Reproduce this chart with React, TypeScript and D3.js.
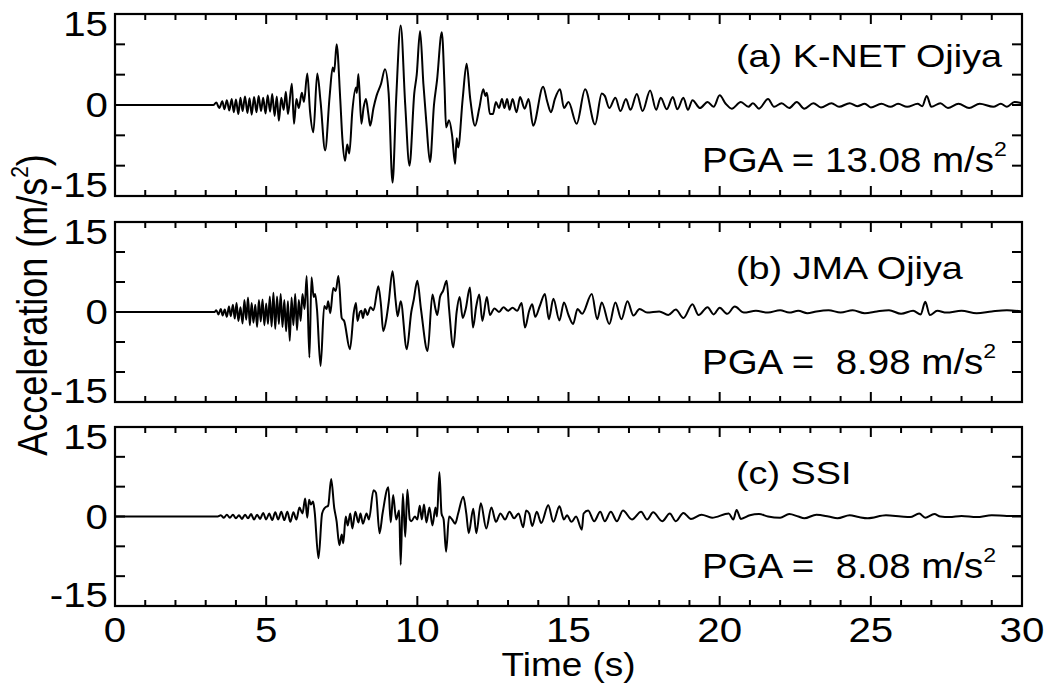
import React from 'react';
import * as d3 from 'd3';

// ---------- data (time s, acceleration m/s^2) ----------
const timeTicks = [0, 5, 10, 15, 20, 25, 30];
const timeMinorTicks = d3.range(0, 31, 1);
const accTicks = [15, 0, -15];
const accMinorTicks = [15, 10, 5, 0, -5, -10, -15];
const panelLabels = ['(a) K-NET Ojiya', '(b) JMA Ojiya', '(c) SSI'];
const pgaValues = ['13.08', ' 8.98', ' 8.08'];

const kNetOjiya: [number, number][] = [
  [0, 0], [3.25, 0], [3.35, 0.4], [3.45, -0.5], [3.55, 0.6], [3.62, -0.7], [3.7, 0.8], [3.78, -0.9],
  [3.86, 1.0], [3.93, -1.2], [4.0, 0.9], [4.08, -1.5], [4.15, 1.2], [4.22, -1.0], [4.3, 1.4], [4.38, -1.3],
  [4.45, 1.1], [4.52, -1.6], [4.6, 1.3], [4.68, -1.2], [4.75, 1.5], [4.83, -1.0], [4.9, 1.2], [4.98, -1.4],
  [5.05, 1.6], [5.13, -1.1], [5.2, 1.8], [5.28, -1.8], [5.35, 1.4], [5.42, -2.6], [5.5, 1.2], [5.58, -0.8],
  [5.65, 2.2], [5.72, -1.5], [5.85, 3.5], [5.92, -3.1], [6.0, 1.0], [6.08, -0.5], [6.18, 2.0], [6.25, 0.5],
  [6.36, 5.2], [6.45, -1.0], [6.56, -4.5], [6.69, 5.2], [6.8, 0.5], [6.95, -7.5], [7.1, 1.5], [7.2, 6.2],
  [7.25, 5.5], [7.33, 10.0], [7.45, 1.0], [7.52, -5.5], [7.61, -9.2], [7.68, -6.5], [7.75, -8.0], [7.85, -1.0],
  [7.97, 2.9], [8.0, 2.0], [8.05, 5.1], [8.15, -3.1], [8.22, -0.5], [8.3, 1.0], [8.38, -1.5], [8.44, -3.4],
  [8.55, -0.5], [8.65, 1.5], [8.8, 3.5], [8.93, 5.9], [9.05, 2.0], [9.18, -12.8], [9.3, 1.0], [9.45, 13.1],
  [9.6, 0.0], [9.74, -10.0], [9.9, 2.0], [9.98, 5.0], [10.09, 12.2], [10.2, 3.5], [10.3, -3.0], [10.42, -9.4],
  [10.55, 0.0], [10.65, 4.0], [10.81, 12.0], [10.9, 3.0], [10.95, -3.7], [11.05, -2.5], [11.15, -5.0], [11.25, -9.7],
  [11.3, -5.5], [11.35, -7.0], [11.5, 1.0], [11.63, 6.8], [11.75, 1.0], [11.91, -3.4], [12.05, -0.5], [12.18, 2.6],
  [12.25, 1.5], [12.3, 2.0], [12.4, -1.5], [12.5, -1.5], [12.6, 0.5], [12.7, -0.5], [12.8, 1.0], [12.88, -0.5],
  [12.97, 1.0], [13.05, -0.8], [13.15, 1.0], [13.28, -1.2], [13.4, 1.3], [13.55, -0.6], [13.68, 1.0], [13.83, -3.4],
  [14.16, 3.0], [14.3, 0.5], [14.42, -1.2], [14.55, 1.0], [14.72, 2.6], [14.85, -0.5], [15.0, 0.5], [15.27, -3.1],
  [15.55, 2.6], [15.88, -3.2], [16.1, 1.9], [16.2, 1.5], [16.35, -0.5], [16.55, 1.2], [16.72, -1.0], [16.9, 1.0],
  [17.05, -0.8], [17.26, 1.8], [17.45, -1.0], [17.7, 2.4], [17.9, -0.8], [18.05, 1.2], [18.25, -0.7], [18.45, 1.3],
  [18.6, -0.7], [18.8, 1.2], [18.95, -0.8], [19.1, 0.8], [19.35, -0.5], [19.6, 0.5], [19.8, -0.3], [20.0, 1.6],
  [20.2, 0.2], [20.4, -0.6], [20.7, 0.5], [20.95, -0.3], [21.1, 0.3], [21.3, -0.6], [21.6, 1.0], [21.8, -0.3],
  [22.05, 0.3], [22.3, -0.5], [22.55, 0.5], [22.8, -0.6], [23.1, 0.3], [23.35, -0.4], [23.7, 0.3], [23.95, -0.3],
  [24.3, 0.3], [24.55, -0.2], [24.8, 0.2], [25.0, -0.4], [25.35, 0.2], [25.65, -0.3], [25.9, 0.2], [26.2, -0.3],
  [26.55, 0.2], [26.7, -0.2], [26.85, 1.5], [27.0, -0.3], [27.3, 0.3], [27.55, -0.5], [27.9, 0.2], [28.25, -0.5],
  [28.6, 0.2], [29.05, -0.3], [29.3, 0.2], [29.5, -0.3], [29.75, 0.5], [30.0, 0.3],
];

const jmaOjiya: [number, number][] = [
  [0, 0], [3.3, 0], [3.35, 0.3], [3.42, -0.4], [3.5, 0.5], [3.56, -0.6], [3.63, 0.4], [3.7, -0.8], [3.77, 0.9],
  [3.83, -0.7], [3.9, 1.2], [3.96, -1.1], [4.02, 1.5], [4.08, -1.5], [4.15, 0.8], [4.22, -1.9], [4.28, 2.0],
  [4.34, -1.3], [4.4, 2.4], [4.46, -2.2], [4.52, 1.5], [4.58, -1.8], [4.64, 1.2], [4.7, -2.5], [4.76, 2.0],
  [4.82, -1.6], [4.88, 2.1], [4.94, -2.2], [5.0, 1.4], [5.06, -2.0], [5.12, 2.6], [5.18, -2.4], [5.24, 3.2],
  [5.3, -2.8], [5.36, 2.6], [5.42, -2.0], [5.48, 3.0], [5.54, -2.5], [5.6, 2.0], [5.66, -3.2], [5.72, 1.8],
  [5.78, -4.8], [5.84, 2.4], [5.9, -2.2], [5.96, 3.0], [6.02, -3.0], [6.08, 2.0], [6.14, -1.5], [6.2, 3.0],
  [6.27, 0.5], [6.34, 6.0], [6.43, -7.6], [6.5, 5.8], [6.57, 2.5], [6.62, 3.0], [6.68, 0.5], [6.8, -9.0],
  [6.92, 1.0], [7.0, 0.5], [7.05, 1.8], [7.12, -0.2], [7.22, 4.0], [7.3, 3.5], [7.39, 6.0], [7.5, -1.0],
  [7.58, -1.5], [7.77, -6.2], [7.9, 0.0], [7.97, 1.5], [8.02, -1.5], [8.1, 0.0], [8.15, 0.2], [8.2, -1.0],
  [8.27, 0.5], [8.35, -0.5], [8.45, 0.8], [8.55, 0.3], [8.71, 4.3], [8.8, 1.0], [8.87, -3.2], [8.98, -1.0],
  [9.05, 1.5], [9.18, 6.8], [9.28, 2.0], [9.35, -0.7], [9.45, 1.8], [9.65, -6.2], [9.8, 0.0], [9.88, 2.0],
  [10.0, 5.2], [10.12, 0.5], [10.34, -6.5], [10.5, 2.9], [10.6, 0.5], [10.66, -0.5], [10.75, 2.5], [10.85, 3.5],
  [10.97, 5.2], [11.05, 0.5], [11.19, -5.9], [11.3, 0.0], [11.4, 2.5], [11.5, -1.0], [11.6, 0.5], [11.74, 4.1],
  [11.84, -2.6], [11.95, 1.0], [12.05, 2.9], [12.15, -1.5], [12.3, 2.5], [12.4, -0.5], [12.55, 0.6], [12.7, 0.0],
  [12.85, 0.8], [13.0, 0.2], [13.15, 0.7], [13.3, 0.2], [13.45, 1.5], [13.56, -2.6], [13.7, 0.2], [13.8, 1.3],
  [13.9, -0.8], [14.05, 1.0], [14.22, 3.0], [14.35, -1.2], [14.5, 2.2], [14.7, -1.4], [14.85, 1.6], [15.0, -0.5],
  [15.15, -2.0], [15.3, 0.5], [15.45, -0.3], [15.77, 3.0], [15.95, -1.2], [16.1, 1.6], [16.35, -2.0], [16.55, 1.6],
  [16.75, -1.2], [16.95, 1.8], [17.15, -0.6], [17.35, 0.5], [17.6, -0.1], [18.0, 0.1], [18.3, -0.5], [18.55, 0.4],
  [18.8, -1.0], [19.1, 1.3], [19.3, -0.5], [19.6, 0.8], [19.8, -0.4], [20.0, 0.7], [20.25, -0.3], [20.5, 0.9],
  [20.8, -0.1], [21.2, 0.2], [21.6, -0.1], [22.0, 0.3], [22.3, -0.1], [22.6, 0.2], [22.9, -0.2], [23.2, 0.1],
  [23.6, 0.3], [24.0, -0.1], [24.4, 0.3], [24.8, -0.2], [25.2, 0.1], [25.6, 0.3], [26.0, -0.3], [26.4, 0.2],
  [26.65, -0.4], [26.8, 1.7], [26.95, -0.5], [27.2, 0.2], [27.5, -0.1], [28.0, 0.2], [28.5, -0.2], [29.0, 0.1],
  [29.5, 0.3], [30.0, 0.1],
];

const ssi: [number, number][] = [
  [0, 0], [3.4, 0], [3.5, 0.2], [3.6, -0.2], [3.7, 0.3], [3.8, -0.2], [3.9, 0.3], [4.0, -0.3], [4.1, 0.2],
  [4.2, -0.4], [4.3, 0.3], [4.4, -0.3], [4.5, 0.4], [4.6, -0.5], [4.7, 0.3], [4.8, -0.4], [4.9, 0.6],
  [5.0, -0.5], [5.1, 0.5], [5.2, -0.6], [5.3, 0.7], [5.4, -0.5], [5.5, 0.8], [5.6, -0.6], [5.7, 0.8],
  [5.8, -0.9], [5.9, 0.7], [6.0, -0.5], [6.1, 1.5], [6.2, 0.5], [6.29, 3.0], [6.36, -0.2], [6.42, 2.8],
  [6.48, 2.0], [6.55, 2.5], [6.6, 1.0], [6.73, -7.0], [6.85, 0.5], [6.95, 1.5], [7.05, 1.8], [7.15, 6.3],
  [7.25, 1.5], [7.33, -0.8], [7.42, -4.8], [7.5, -3.0], [7.55, -4.5], [7.63, 0.0], [7.7, -1.5], [7.78, 0.5],
  [7.85, -2.0], [7.95, 0.8], [8.05, -1.0], [8.12, 0.5], [8.2, -1.2], [8.32, 0.5], [8.4, -0.5], [8.55, 4.4],
  [8.63, 4.0], [8.75, -2.8], [8.85, 0.5], [9.04, 4.9], [9.12, -1.0], [9.2, 3.6], [9.3, -0.5], [9.4, 1.0],
  [9.45, -8.1], [9.52, 3.8], [9.6, -3.4], [9.67, 4.5], [9.75, -0.5], [9.8, -0.8], [9.92, 0.0], [10.0, -0.5],
  [10.08, 1.8], [10.15, -0.5], [10.22, 2.0], [10.3, -1.0], [10.4, 1.5], [10.5, -1.5], [10.6, 1.5], [10.65, 0.0],
  [10.73, 7.4], [10.8, 0.5], [10.87, -0.5], [10.95, -5.9], [11.05, 0.0], [11.15, -0.5], [11.25, -1.2], [11.35, 0.5],
  [11.52, 3.3], [11.62, 0.5], [11.7, -2.8], [11.85, 1.3], [11.95, -2.8], [12.1, 2.2], [12.28, -2.0], [12.45, 1.5],
  [12.6, -0.9], [12.75, 0.5], [12.9, -0.5], [13.05, 0.8], [13.2, -0.3], [13.35, 0.5], [13.5, -1.8], [13.6, 1.0],
  [13.7, 0.5], [13.8, -1.6], [13.95, 0.8], [14.1, -1.1], [14.33, 1.9], [14.5, -0.9], [14.7, 1.7], [14.85, -0.5],
  [14.95, 0.2], [15.1, -0.9], [15.25, 0.0], [15.44, -2.2], [15.5, 0.5], [15.65, 1.0], [15.85, -0.8], [16.05, 0.8],
  [16.2, -0.8], [16.4, 0.8], [16.6, -0.8], [16.8, 1.0], [17.1, -0.5], [17.4, 0.8], [17.6, -0.5], [17.8, 0.7],
  [18.1, -0.8], [18.35, 0.5], [18.55, -0.8], [18.8, 0.6], [19.05, -0.4], [19.4, 0.3], [19.75, -0.2], [20.3, 0.5],
  [20.45, -0.5], [20.56, 1.1], [20.7, -0.4], [21.0, 0.2], [21.3, 0.4], [21.6, 0.0], [22.0, -0.2], [22.3, 0.4],
  [22.6, 0.0], [22.8, -0.3], [23.2, 0.3], [23.6, 0.0], [23.9, -0.3], [24.3, 0.2], [24.6, -0.1], [24.9, -0.3],
  [25.5, 0.2], [26.0, 0.0], [26.3, -0.1], [26.6, 0.5], [26.8, -0.2], [27.1, 0.4], [27.3, 0.0], [27.6, -0.1],
  [28.0, 0.1], [28.5, -0.1], [29.0, 0.2], [29.5, 0.1], [30.0, 0.1],
];

const seriesList = [kNetOjiya, jmaOjiya, ssi];

// ---------- layout ----------
const W = 1052;
const H = 693;
const LEFT = 115;
const RIGHT = 1022;
const panelBoxes = [
  { top: 14, bottom: 196, labelY: 67, pgaY: 172 },
  { top: 222, bottom: 402, labelY: 279, pgaY: 374 },
  { top: 427, bottom: 606, labelY: 484, pgaY: 578 },
];
const FONT = "'Liberation Sans', Arial, Helvetica, sans-serif";

export default function App() {
  const x = d3.scaleLinear().domain([0, 30]).range([LEFT, RIGHT]);

  return (
    <svg
      width={W}
      height={H}
      viewBox={`0 0 ${W} ${H}`}
      style={{ position: 'absolute', left: 0, top: 0, background: '#fff' }}
      fontFamily={FONT}
    >
      <rect x={0} y={0} width={W} height={H} fill="#fff" />
      {panelBoxes.map((p, i) => {
        const y = d3.scaleLinear().domain([-15, 15]).range([p.bottom, p.top]);
        const line = d3
          .line<[number, number]>()
          .x((d) => x(d[0]))
          .y((d) => y(d[1]))
          .curve(d3.curveMonotoneX);
        const isLast = i === panelBoxes.length - 1;
        return (
          <g key={i}>
            {/* waveform */}
            <path
              d={line(seriesList[i]) || ''}
              fill="none"
              stroke="#000"
              strokeWidth={2}
              strokeLinejoin="round"
            />
            {/* frame */}
            <rect
              x={LEFT}
              y={p.top}
              width={RIGHT - LEFT}
              height={p.bottom - p.top}
              fill="none"
              stroke="#000"
              strokeWidth={2.2}
            />
            {/* x ticks, top and bottom, inward */}
            {timeMinorTicks.map((t) => {
              const len = t % 5 === 0 ? 10 : 6;
              return (
                <g key={`xt${t}`} stroke="#000" strokeWidth={2}>
                  <line x1={x(t)} x2={x(t)} y1={p.bottom} y2={p.bottom - len} />
                  <line x1={x(t)} x2={x(t)} y1={p.top} y2={p.top + len} />
                </g>
              );
            })}
            {/* y ticks, left and right, inward */}
            {accMinorTicks.map((v) => (
              <g key={`yt${v}`} stroke="#000" strokeWidth={2}>
                <line x1={LEFT} x2={LEFT + 10} y1={y(v)} y2={y(v)} />
                <line x1={RIGHT} x2={RIGHT - 10} y1={y(v)} y2={y(v)} />
              </g>
            ))}
            {/* y tick labels */}
            {accTicks.map((v) => {
              let by = y(v) + 12;
              if (v === 15) by = p.top + 22;
              if (v === -15) by = p.bottom + 1;
              return (
                <text
                  key={`yl${v}`}
                  transform={`translate(108,${by}) scale(1.15,1)`}
                  textAnchor="end"
                  fontSize={35}
                  fill="#000"
                >
                  {v}
                </text>
              );
            })}
            {/* panel label */}
            <text
              transform={`translate(736,${p.labelY}) scale(1.22,1)`}
              fontSize={31}
              fill="#000"
            >
              {panelLabels[i]}
            </text>
            {/* PGA */}
            <text
              transform={`translate(702,${p.pgaY}) scale(1.1,1)`}
              fontSize={35}
              fill="#000"
              xmlSpace="preserve"
              style={{ whiteSpace: 'pre' }}
            >
              {`PGA = ${pgaValues[i]} m/s`}
              <tspan fontSize={21} dy={-16}>2</tspan>
            </text>
            {/* x tick labels on last panel */}
            {isLast &&
              timeTicks.map((t) => (
                <text
                  key={`xl${t}`}
                  transform={`translate(${x(t)},642) scale(1.15,1)`}
                  textAnchor="middle"
                  fontSize={35}
                  fill="#000"
                >
                  {t}
                </text>
              ))}
          </g>
        );
      })}
      {/* axis titles */}
      <text
        transform={`translate(${(LEFT + RIGHT) / 2},676) scale(1.12,1)`}
        textAnchor="middle"
        fontSize={33}
        fill="#000"
      >
        Time (s)
      </text>
      <text
        transform={`translate(47,305) scale(1.18,1) rotate(-90)`}
        textAnchor="middle"
        fontSize={36}
        fill="#000"
      >
        Acceleration (m/s<tspan fontSize={21} dy={-16}>2</tspan>
        <tspan dy={16}>)</tspan>
      </text>
    </svg>
  );
}
